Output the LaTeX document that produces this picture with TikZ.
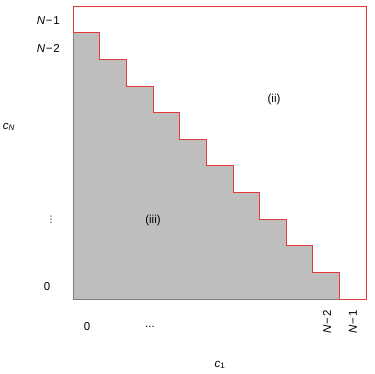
\documentclass[tikz,border=0pt]{standalone}
\usepackage{fontspec}
\setsansfont{Liberation Sans}
\newfontfamily\symfont{DejaVu Sans}
\usepackage{tikz}
\usepackage{xcolor}
\usetikzlibrary{positioning, calc}
\definecolor{cShade}   {HTML}{BEBEBE}
\definecolor{cEdge}    {HTML}{7F7F7F}
\definecolor{cBound}   {HTML}{E53A3A}
\tikzset{
  lbl/.style={font=\sffamily\fontsize{11.5}{13}\selectfont, inner sep=0pt},
}
\newcommand{\Nm}[1]{{\itshape N}\kern0.8pt−\kern0.8pt#1}

\begin{document}
\begin{tikzpicture}[x=1pt, y=1pt]
        \useasboundingbox (0, 0) rectangle (374, 374);
        \begin{scope}[shift={(73pt, 75pt)}, x=26.64pt, y=26.64pt]
          % staircase region (iii)
          \fill[cShade] (0, 0) -- (0, 10)
                foreach \i in {1,...,10} { -- (\i, {11-\i}) -- (\i, {10-\i}) } -- cycle;
          \draw[cEdge, line width=0.6pt] (0, 10) -- (0, 0) -- (10, 0);
          % region (ii)
          \draw[cBound, line width=0.6pt] (10, 0) -- (11, 0) -- (11, 11) -- (0, 11) -- (0, 10)
                foreach \i in {1,...,10} { -- (\i, {11-\i}) -- (\i, {10-\i}) };
        \end{scope}
        \node[lbl, anchor=east] (yNa) at (60, 353) {\Nm{1}};
        \node[lbl, anchor=east] (yNb) at (60, 326) {\Nm{2}};
        \node[lbl] (yaxis) at (9, 247) {{\itshape c}\textsubscript{\itshape N}};
        \node[lbl, font=\symfont\fontsize{9}{10}\selectfont] (ydots) at (51, 154) {⋮};
        \node[lbl] (yzero) at (47, 87) {0};
        \node[lbl] (xzero) at (87, 47) {0};
        \node[lbl] (xdots) at (150, 47) {...};
        \node[lbl, rotate=90] (xNb) at (327, 52) {\Nm{2}};
        \node[lbl, rotate=90] (xNa) at (353, 52) {\Nm{1}};
        \node[lbl] (xaxis) at (220, 9) {{\itshape c}\textsubscript{1}};
        \node[lbl] (regii) at (274, 274) {(ii)};
        \node[lbl] (regiii) at (153, 153) {(iii)};
      \end{tikzpicture}
\end{document}
